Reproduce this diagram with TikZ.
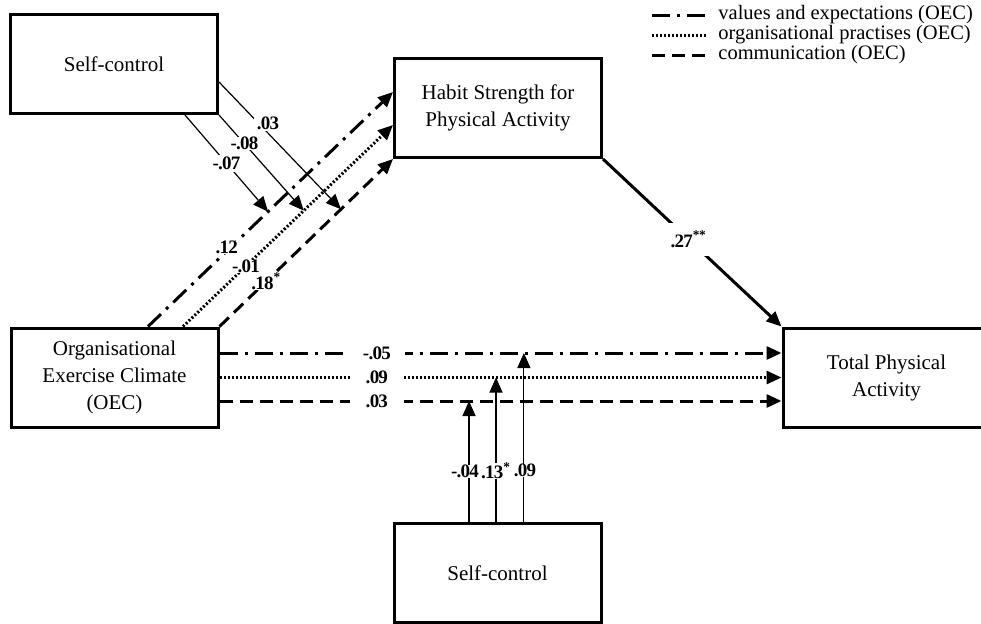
\documentclass[tikz,border=0pt]{standalone}
\usepackage{fontspec}
\setmainfont{Liberation Serif}
\newfontfamily\coeffont[LetterSpace=-4]{Liberation Serif}
\usetikzlibrary{arrows.meta,positioning,calc}

\begin{document}
\begin{tikzpicture}[x=0.5pt,y=-0.5pt,
            box/.style={draw, line width=1.5pt, minimum width=103.5pt, minimum height=49.5pt, inner sep=0pt, align=center, font=\fontsize{10.5}{13.5}\selectfont},
            coef/.style={fill=white, inner xsep=1.5pt, inner ysep=0pt, font=\fontsize{9.5}{11}\coeffont\bfseries},
            legtext/.style={anchor=west, inner sep=0pt, font=\fontsize{10.25}{12}\selectfont},
            valexp/.style={line width=1.5pt, dash pattern=on 9pt off 3.5pt on 1.5pt off 3.5pt},
            orgprac/.style={line width=1.5pt, dash pattern=on 1pt off 1pt},
            comm/.style={line width=1.5pt, dash pattern=on 6.5pt off 3.5pt},
            modline/.style={line width=0.6pt},
            tip/.style={-{Triangle[length=7.5pt,width=6.5pt]}}]
        \useasboundingbox (0,0) rectangle (981,623);

        % boxes
        \node[box] (sctop) at (114,64) {Self-control};
        \node[box] (habit) at (498,108) {Habit Strength for\\Physical Activity};
        \node[box] (oec) at (114.5,377.5) {Organisational\\Exercise Climate\\(OEC)};
        \node[box] (total) at (886.5,377.5) {Total Physical\\Activity};
        \node[box] (scbot) at (497.5,573) {Self-control};

        % legend
        \node[legtext] (leg1) at (718,15) {values and expectations (OEC)};
        \node[legtext] (leg2) at (718,35) {organisational practises (OEC)};
        \node[legtext] (leg3) at (718,55) {communication (OEC)};
        \draw[valexp] ($(leg1.west)+(-66,0)$) -- ($(leg1.west)+(-10,0)$);
        \draw[orgprac] ($(leg2.west)+(-66,0)$) -- ($(leg2.west)+(-10,0)$);
        \draw[comm] ($(leg3.west)+(-66,0)$) -- ($(leg3.west)+(-10,0)$);

        % OEC -> habit strength
        \draw[valexp,tip] ($(oec.north)+(33.5,0)$) -- node[coef,pos=0.33,shift={(-2,-2)}] {.12} coordinate[pos=0.49] (m1) ($(habit.west)+(0,-16)$);
        \draw[orgprac,tip] ($(oec.north)+(68.5,0)$) -- node[coef,pos=0.30] {-.01} coordinate[pos=0.575] (m2) ($(habit.west)+(0,17)$);
        \draw[comm,tip] (oec.north east) -- node[coef,pos=0.27] {.18\textsuperscript{*}} coordinate[pos=0.70] (m3) (habit.south west);

        % OEC -> total physical activity
        \draw[valexp,tip] ($(oec.east)+(0,-24.5)$) -- node[coef,pos=0.28,inner xsep=7pt] {-.05} coordinate[pos=0.5416] (n1) ($(total.west)+(0,-24.5)$);
        \draw[orgprac,tip] (oec.east) -- node[coef,pos=0.28,inner xsep=8pt] {.09} coordinate[pos=0.492] (n2) (total.west);
        \draw[comm,tip] ($(oec.east)+(0,23.5)$) -- node[coef,pos=0.28,inner xsep=8pt] {.03} coordinate[pos=0.444] (n3) ($(total.west)+(0,23.5)$);

        % habit strength -> total physical activity
        \draw[line width=1.5pt,tip] (habit.south east) -- node[coef,pos=0.48,inner sep=4pt] {.27\textsuperscript{**}} (total.north west);

        % moderation by self-control
        \draw[modline,tip] ($(sctop.south)+(71,0)$) -- node[coef,pos=0.50,inner ysep=1pt] {-.07} (m1);
        \draw[modline,tip] (sctop.south east) -- node[coef,pos=0.30] {-.08} (m2);
        \draw[modline,tip] ($(sctop.east)+(0,18)$) -- node[coef,pos=0.36,shift={(5,-5)},inner ysep=1pt] {.03} (m3);

        \draw[modline,tip] (scbot.north -| n3) -- node[coef,pos=0.42,inner xsep=0pt,xshift=-2pt] {-.04} (n3);
        \draw[modline,tip] (scbot.north -| n2) -- node[coef,pos=0.354,inner xsep=0pt] {.13\textsuperscript{*}} (n2);
        \draw[modline,tip] (scbot.north -| n1) -- node[coef,pos=0.304,inner xsep=0pt,xshift=0.5pt] {.09} (n1);
    \end{tikzpicture}
\end{document}
